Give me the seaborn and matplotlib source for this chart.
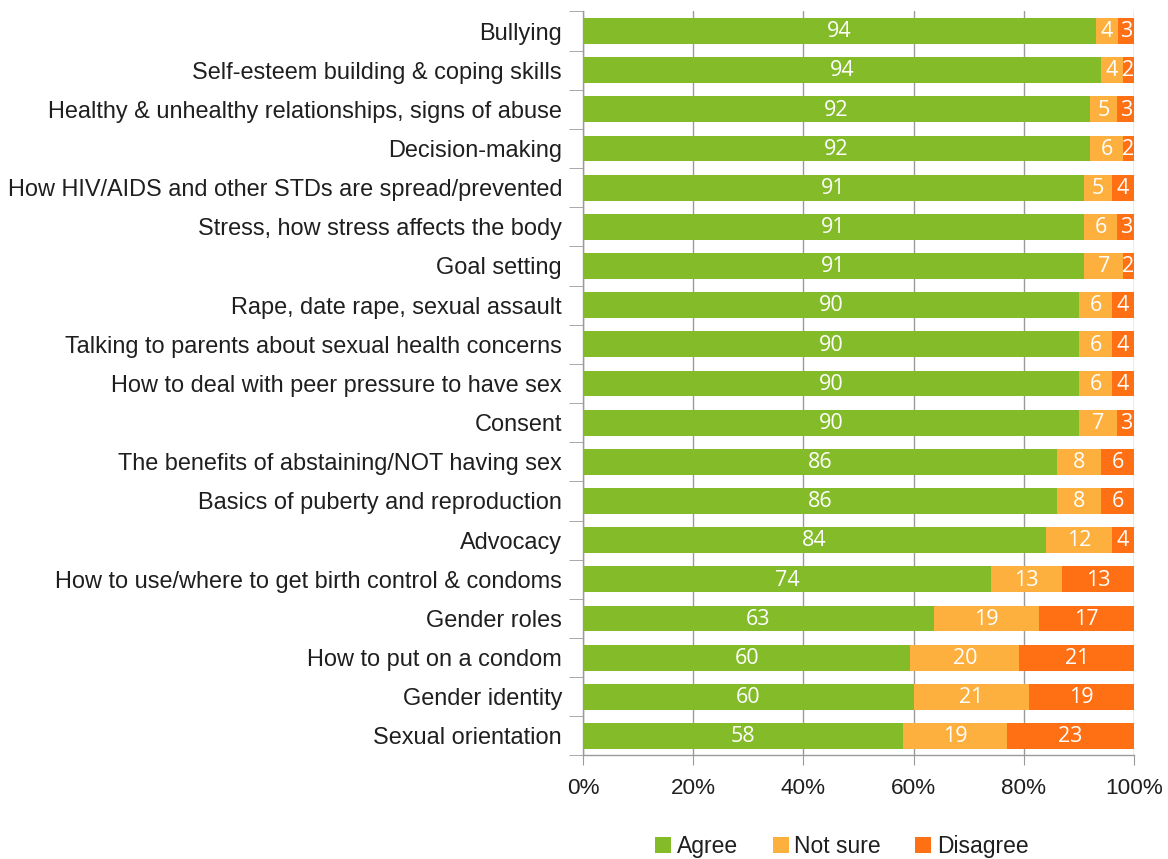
import numpy as np
import matplotlib
matplotlib.use("Agg")
import matplotlib.pyplot as plt
from matplotlib.patches import Patch
from matplotlib.ticker import FixedLocator, PercentFormatter
import seaborn as sns

topics = [
    "Bullying",
    "Self-esteem building & coping skills",
    "Healthy & unhealthy relationships, signs of abuse",
    "Decision-making",
    "How HIV/AIDS and other STDs are spread/prevented",
    "Stress, how stress affects the body",
    "Goal setting",
    "Rape, date rape, sexual assault",
    "Talking to parents about sexual health concerns",
    "How to deal with peer pressure to have sex",
    "Consent",
    "The benefits of abstaining/NOT having sex",
    "Basics of puberty and reproduction",
    "Advocacy",
    "How to use/where to get birth control & condoms",
    "Gender roles",
    "How to put on a condom",
    "Gender identity",
    "Sexual orientation",
]
agree    = [94, 94, 92, 92, 91, 91, 91, 90, 90, 90, 90, 86, 86, 84, 74, 63, 60, 60, 58]
not_sure = [4, 4, 5, 6, 5, 6, 7, 6, 6, 6, 7, 8, 8, 12, 13, 19, 20, 21, 19]
disagree = [3, 2, 3, 2, 4, 3, 2, 4, 4, 4, 3, 6, 6, 4, 13, 17, 21, 19, 23]

series_names = ["Agree", "Not sure", "Disagree"]
colors = ["#84BC29", "#FDB03E", "#FE7013"]

sns.set_style("white")
plt.rcParams["font.family"] = ["Liberation Sans", "DejaVu Sans"]

vals = np.array([agree, not_sure, disagree], dtype=float)
# 100% stacked: each row scaled to its total
share = vals / vals.sum(axis=0) * 100
cum = np.cumsum(share, axis=0)

fig = plt.figure(figsize=(11.68, 8.59), dpi=100)
ax = fig.add_axes([0.4991, 0.1205, 0.4718, 0.8662])

# draw the longest stacks first so shorter ones sit on top
for k in [2, 1, 0]:
    sns.barplot(x=cum[k], y=topics, color=colors[k], orient="h", width=0.66,
                saturation=1, linewidth=0, ax=ax, zorder=3)

for i in range(len(topics)):
    left = 0
    for k in range(3):
        mid = left + share[k, i] / 2
        ax.text(mid, i + 0.02, f"{int(vals[k, i])}", ha="center", va="center",
                color="white", fontsize=15.5, family="Open Sans", zorder=4)
        left = cum[k, i]

ax.set_xlim(0, 100)
ax.set_ylim(len(topics) - 0.5, -0.5)
ax.xaxis.set_major_locator(FixedLocator([0, 20, 40, 60, 80, 100]))
ax.xaxis.set_major_formatter(PercentFormatter(decimals=0))
ax.grid(axis="x", color="#9a9a9a", linewidth=1, zorder=0)
ax.set_axisbelow(True)
ax.set_xlabel("")
ax.set_ylabel("")

for side in ["top", "right"]:
    ax.spines[side].set_visible(False)
for side in ["left", "bottom"]:
    ax.spines[side].set_color("#9a9a9a")
    ax.spines[side].set_linewidth(1)

ax.tick_params(axis="x", which="major", length=7, color="#9a9a9a",
               labelsize=16.2, pad=9, direction="out", bottom=True,
               labelcolor="#1f1f1f")
ax.tick_params(axis="y", which="major", length=0, labelsize=16.95, pad=15,
               labelcolor="#1f1f1f")
ax.yaxis.set_minor_locator(FixedLocator(np.arange(-0.5, len(topics), 1)))
ax.tick_params(axis="y", which="minor", length=10, color="#9a9a9a",
               direction="out", left=True)

handles = [Patch(facecolor=c, edgecolor="none") for c in colors]
fig.legend(handles, series_names, loc="center", bbox_to_anchor=(0.721, 0.015),
           ncol=3, frameon=False, fontsize=16.5, handlelength=0.7,
           handleheight=0.7, handletextpad=0.25, columnspacing=1.5,
           labelcolor="#1f1f1f")

fig.savefig("out.png", dpi=100)
